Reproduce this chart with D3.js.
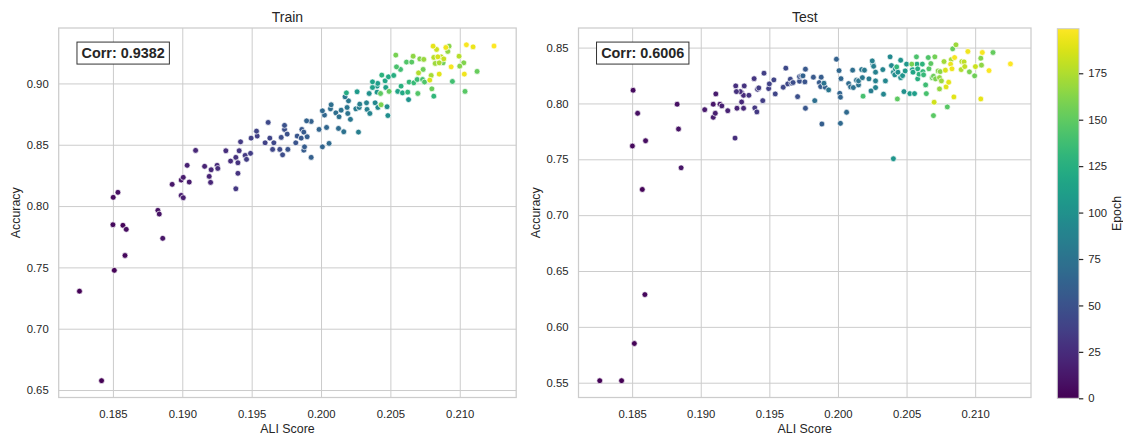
<!DOCTYPE html>
<html>
<head>
<meta charset="utf-8">
<script src="https://cdn.jsdelivr.net/npm/d3@7"></script>
<style>
  body { margin: 0; background: #fff; }
  svg { display: block; }
  text { font-family: "Liberation Sans", Arial, Helvetica, sans-serif; fill: #262626; }
</style>
</head>
<body>
<svg id="chart" width="1123" height="435"></svg>
<script>
// [ALI score, accuracy, epoch] for every logged epoch
const trainPoints = [
  [0.18259, 0.7306, 1], [0.18418, 0.6576, 0], [0.18510, 0.7476, 2], [0.18500, 0.7848, 5],
  [0.18572, 0.7843, 3], [0.18596, 0.7810, 7], [0.18587, 0.7597, 4], [0.18502, 0.8071, 6],
  [0.18536, 0.8112, 8], [0.18824, 0.7965, 9], [0.18834, 0.7935, 10], [0.18859, 0.7737, 11],
  [0.18927, 0.8177, 13], [0.18992, 0.8212, 12], [0.19007, 0.8234, 15], [0.19050, 0.8196, 14],
  [0.18992, 0.8087, 16], [0.19007, 0.8068, 17], [0.19035, 0.8332, 18], [0.19096, 0.8454, 22],
  [0.19161, 0.8324, 19], [0.19194, 0.8242, 20], [0.19204, 0.8193, 21], [0.19208, 0.8296, 23],
  [0.19251, 0.8332, 24], [0.19256, 0.8307, 25], [0.19314, 0.8451, 27], [0.19348, 0.8367, 26],
  [0.19386, 0.8397, 28], [0.19401, 0.8353, 29], [0.19410, 0.8451, 31], [0.19401, 0.8267, 30],
  [0.19386, 0.8141, 32], [0.19420, 0.8524, 34], [0.19453, 0.8413, 33], [0.19463, 0.8381, 35],
  [0.19492, 0.8430, 36], [0.19496, 0.8554, 38], [0.19535, 0.8611, 40], [0.19540, 0.8571, 37],
  [0.19597, 0.8516, 39], [0.19619, 0.8682, 44], [0.19631, 0.8554, 41], [0.19651, 0.8462, 42],
  [0.19660, 0.8516, 43], [0.19703, 0.8462, 45], [0.19713, 0.8560, 47], [0.19723, 0.8418, 46],
  [0.19737, 0.8658, 50], [0.19737, 0.8625, 48], [0.19756, 0.8587, 49], [0.19761, 0.8462, 51],
  [0.19818, 0.8516, 52], [0.19828, 0.8571, 53], [0.19857, 0.8554, 55], [0.19862, 0.8625, 54],
  [0.19876, 0.8603, 56], [0.19876, 0.8456, 57], [0.19881, 0.8483, 58], [0.19896, 0.8695, 62],
  [0.19900, 0.8565, 59], [0.19929, 0.8397, 60], [0.19929, 0.8690, 61], [0.19986, 0.8625, 63],
  [0.20010, 0.8483, 64], [0.20010, 0.8777, 67], [0.20025, 0.8742, 66], [0.20040, 0.8641, 65],
  [0.20058, 0.8511, 68], [0.20073, 0.8826, 72], [0.20068, 0.8793, 70], [0.20107, 0.8760, 71],
  [0.20126, 0.8633, 69], [0.20130, 0.8728, 73], [0.20145, 0.8782, 75], [0.20164, 0.8606, 74],
  [0.20173, 0.8891, 80], [0.20183, 0.8923, 122], [0.20188, 0.8804, 77], [0.20193, 0.8755, 76],
  [0.20198, 0.8858, 79], [0.20212, 0.8707, 78], [0.20251, 0.8793, 82], [0.20260, 0.8932, 108],
  [0.20270, 0.8603, 84], [0.20279, 0.8831, 85], [0.20328, 0.8842, 88], [0.20332, 0.8788, 86],
  [0.20347, 0.8918, 100], [0.20352, 0.8755, 90], [0.20371, 0.8967, 112], [0.20371, 0.9013, 115],
  [0.20404, 0.8929, 104], [0.20409, 0.9000, 110], [0.20438, 0.9068, 128], [0.20390, 0.8842, 92],
  [0.20404, 0.8978, 106], [0.20410, 0.8804, 94], [0.20429, 0.8918, 150], [0.20433, 0.8826, 160],
  [0.20462, 0.9021, 118], [0.20467, 0.8967, 114], [0.20476, 0.8810, 96], [0.20491, 0.8935, 152],
  [0.20486, 0.9054, 120], [0.20524, 0.9065, 124], [0.20539, 0.9231, 158], [0.20544, 0.9135, 142],
  [0.20553, 0.8935, 116], [0.20573, 0.9114, 138], [0.20577, 0.8978, 126], [0.20587, 0.8923, 119],
  [0.20616, 0.9174, 145], [0.20625, 0.8929, 130], [0.20635, 0.9011, 132], [0.20654, 0.9174, 148],
  [0.20664, 0.9222, 165], [0.20669, 0.9005, 134], [0.20693, 0.9032, 136], [0.20698, 0.8918, 146],
  [0.20703, 0.9086, 176], [0.20712, 0.9200, 162], [0.20732, 0.9032, 140], [0.20736, 0.9114, 155],
  [0.20741, 0.9196, 168], [0.20746, 0.9011, 144], [0.20784, 0.9027, 188], [0.20794, 0.9065, 172],
  [0.20799, 0.8956, 154], [0.20808, 0.9304, 192], [0.20813, 0.9212, 178], [0.20813, 0.8896, 131],
  [0.20823, 0.9163, 170], [0.20833, 0.9277, 184], [0.20842, 0.9217, 186], [0.20852, 0.9076, 190],
  [0.20852, 0.9168, 174], [0.20866, 0.9217, 180], [0.20880, 0.9168, 156], [0.20885, 0.9200, 182],
  [0.20900, 0.9293, 194], [0.20914, 0.9261, 166], [0.20923, 0.9304, 164], [0.20938, 0.9135, 196],
  [0.20947, 0.9016, 139], [0.20995, 0.9222, 177], [0.21000, 0.9141, 163], [0.21029, 0.9168, 161],
  [0.21033, 0.9076, 195], [0.21038, 0.8935, 147], [0.21048, 0.9315, 197], [0.21096, 0.9298, 193],
  [0.21125, 0.9098, 153], [0.21247, 0.9305, 199], [0.20482, 0.8738, 98], [0.20631, 0.8868, 102],
  [0.20275, 0.8804, 83]
];

const testPoints = [
  [0.18264, 0.5518, 1], [0.18423, 0.5518, 0], [0.18516, 0.5851, 2], [0.18593, 0.6289, 4],
  [0.18574, 0.7230, 3], [0.18507, 0.8118, 6], [0.18540, 0.7912, 8], [0.18502, 0.7619, 5],
  [0.18598, 0.7666, 7], [0.18828, 0.7993, 9], [0.18838, 0.7771, 10], [0.18857, 0.7424, 11],
  [0.19029, 0.7944, 14], [0.19091, 0.7876, 16], [0.19106, 0.7912, 17], [0.19091, 0.7993, 12],
  [0.19110, 0.8085, 15], [0.19140, 0.7993, 13], [0.19154, 0.7978, 18], [0.19197, 0.7935, 19],
  [0.19264, 0.7957, 20], [0.19298, 0.8097, 21], [0.19298, 0.8013, 23], [0.19312, 0.7957, 22],
  [0.19312, 0.8073, 24], [0.19288, 0.8106, 25], [0.19250, 0.7690, 26], [0.19255, 0.8157, 27],
  [0.19260, 0.8106, 28], [0.19317, 0.8157, 29], [0.19351, 0.8073, 30], [0.19389, 0.8222, 31],
  [0.19394, 0.7960, 32], [0.19409, 0.7924, 33], [0.19414, 0.8127, 34], [0.19423, 0.8139, 35],
  [0.19452, 0.8025, 36], [0.19461, 0.8271, 37], [0.19495, 0.8133, 38], [0.19500, 0.8175, 39],
  [0.19533, 0.8211, 40], [0.19543, 0.8085, 41], [0.19601, 0.8145, 42], [0.19620, 0.8316, 44],
  [0.19634, 0.8175, 43], [0.19653, 0.8217, 45], [0.19663, 0.8181, 46], [0.19673, 0.8187, 47],
  [0.19706, 0.8061, 48], [0.19720, 0.8240, 50], [0.19720, 0.8199, 49], [0.19735, 0.8247, 51],
  [0.19745, 0.8247, 62], [0.19759, 0.8193, 52], [0.19763, 0.8307, 54], [0.19763, 0.7957, 53],
  [0.19821, 0.8235, 55], [0.19831, 0.8025, 72], [0.19864, 0.8187, 56], [0.19874, 0.8151, 57],
  [0.19878, 0.8235, 58], [0.19883, 0.7816, 59], [0.19898, 0.8181, 76], [0.19907, 0.8145, 60],
  [0.19932, 0.8121, 78], [0.19989, 0.8396, 61], [0.20008, 0.8294, 66], [0.20013, 0.8091, 63],
  [0.20018, 0.8056, 64], [0.20022, 0.8222, 65], [0.20018, 0.7822, 67], [0.20063, 0.7921, 68],
  [0.20078, 0.8178, 69], [0.20092, 0.8148, 70], [0.20107, 0.8298, 71], [0.20112, 0.8142, 73],
  [0.20135, 0.8208, 74], [0.20150, 0.8166, 75], [0.20150, 0.8202, 77], [0.20173, 0.8303, 79],
  [0.20178, 0.8231, 80], [0.20183, 0.8065, 140], [0.20193, 0.8298, 81], [0.20226, 0.8220, 82],
  [0.20241, 0.8112, 83], [0.20250, 0.8381, 86], [0.20255, 0.8351, 84], [0.20260, 0.8333, 85],
  [0.20274, 0.8280, 87], [0.20274, 0.8202, 88], [0.20274, 0.8142, 89], [0.20327, 0.8303, 90],
  [0.20332, 0.8083, 91], [0.20346, 0.8202, 92], [0.20380, 0.8417, 94], [0.20390, 0.8339, 93],
  [0.20404, 0.8280, 95], [0.20414, 0.8256, 96], [0.20418, 0.8309, 97], [0.20428, 0.8327, 130],
  [0.20433, 0.8040, 150], [0.20437, 0.8280, 98], [0.20457, 0.8231, 99], [0.20457, 0.8387, 101],
  [0.20471, 0.8249, 103], [0.20481, 0.8106, 100], [0.20500, 0.8352, 105], [0.20490, 0.8291, 107],
  [0.20524, 0.8088, 109], [0.20558, 0.8088, 111], [0.20538, 0.8352, 158], [0.20543, 0.8303, 113],
  [0.20547, 0.8280, 117], [0.20572, 0.8417, 143], [0.20576, 0.8352, 121], [0.20581, 0.8310, 123],
  [0.20581, 0.8220, 125], [0.20591, 0.8262, 127], [0.20615, 0.8352, 129], [0.20619, 0.8285, 131],
  [0.20624, 0.8256, 133], [0.20639, 0.8166, 137], [0.20644, 0.8088, 141], [0.20658, 0.8411, 144],
  [0.20663, 0.8310, 146], [0.20677, 0.8357, 149], [0.20687, 0.8231, 151], [0.20696, 0.8244, 154],
  [0.20701, 0.8011, 185], [0.20696, 0.7891, 148], [0.20706, 0.8417, 157], [0.20711, 0.8220, 159],
  [0.20730, 0.8291, 162], [0.20745, 0.8285, 164], [0.20740, 0.8231, 166], [0.20740, 0.8130, 167],
  [0.20754, 0.8202, 169], [0.20773, 0.8375, 171], [0.20783, 0.8298, 187], [0.20788, 0.8148, 189],
  [0.20797, 0.7969, 147], [0.20807, 0.8190, 191], [0.20821, 0.8352, 193], [0.20826, 0.8393, 173],
  [0.20831, 0.8310, 194], [0.20836, 0.8489, 153], [0.20845, 0.8058, 190], [0.20850, 0.8411, 196],
  [0.20860, 0.8525, 170], [0.20898, 0.8303, 175], [0.20903, 0.8375, 177], [0.20947, 0.8465, 195],
  [0.20919, 0.8372, 179], [0.20924, 0.8330, 181], [0.20958, 0.8283, 160], [0.21002, 0.8330, 183],
  [0.20996, 0.8247, 155], [0.21041, 0.8405, 163], [0.21046, 0.8343, 165], [0.21052, 0.8456, 197],
  [0.21041, 0.8040, 192], [0.21101, 0.8294, 198], [0.21130, 0.8456, 152], [0.21257, 0.8354, 199],
  [0.20404, 0.7505, 104]
];

const panelTitles = ["Train", "Test"];
const corrLabels = ["Corr: 0.9382", "Corr: 0.6006"];
const xTicks = [0.185, 0.190, 0.195, 0.200, 0.205, 0.210];
const trainYTicks = [0.65, 0.70, 0.75, 0.80, 0.85, 0.90];
const testYTicks = [0.55, 0.60, 0.65, 0.70, 0.75, 0.80, 0.85];
const epochTicks = [0, 25, 50, 75, 100, 125, 150, 175];
const epochRange = [0, 199];

const svg = d3.select("#chart");
const GRID = "#cccccc";
const INK = "#262626";

svg.append("rect").attr("width", 1123).attr("height", 435).attr("fill", "#fff");

const color = d3.scaleSequential(d3.interpolateViridis).domain(epochRange);

// domain padded 5% on each side of the data, like matplotlib's autoscale
function padded(values) {
  const [lo, hi] = d3.extent(values);
  const m = (hi - lo) * 0.05;
  return [lo - m, hi + m];
}

const allAli = trainPoints.map(d => d[0]).concat(testPoints.map(d => d[0]));
const xDomain = padded(allAli);

const panels = [
  { title: panelTitles[0], corr: corrLabels[0], data: trainPoints, yTicks: trainYTicks,
    left: 58.7, right: 516.2, top: 28, bottom: 397.5, ylabelX: 16 },
  { title: panelTitles[1], corr: corrLabels[1], data: testPoints, yTicks: testYTicks,
    left: 578.5, right: 1031, top: 28, bottom: 397.5, ylabelX: 536 }
];

panels.forEach(p => {
  const x = d3.scaleLinear().domain(xDomain).range([p.left, p.right]);
  const y = d3.scaleLinear().domain(padded(p.data.map(d => d[1]))).range([p.bottom, p.top]);
  const g = svg.append("g");

  // grid lines
  const xAxis = d3.axisBottom(x).tickValues(xTicks).tickFormat(d3.format(".3f"))
    .tickSize(-(p.bottom - p.top)).tickPadding(12);
  const gx = g.append("g").attr("transform", `translate(0,${p.bottom})`).call(xAxis);
  const yAxis = d3.axisLeft(y).tickValues(p.yTicks).tickFormat(d3.format(".2f"))
    .tickSize(-(p.right - p.left)).tickPadding(10);
  const gy = g.append("g").attr("transform", `translate(${p.left},0)`).call(yAxis);
  [gx, gy].forEach(a => {
    a.select(".domain").remove();
    a.selectAll(".tick line").attr("stroke", GRID).attr("stroke-width", 1);
    a.selectAll(".tick text").attr("fill", INK).style("font-size", "11.3px");
  });
  gx.selectAll(".tick text").attr("dy", "0.71em").attr("y", 12.5);

  // frame
  g.append("rect")
    .attr("x", p.left).attr("y", p.top)
    .attr("width", p.right - p.left).attr("height", p.bottom - p.top)
    .attr("fill", "none").attr("stroke", GRID).attr("stroke-width", 1.25);

  // points, later epochs on top
  const pts = p.data.slice().sort((a, b) => a[2] - b[2]);
  g.append("g").selectAll("circle").data(pts).join("circle")
    .attr("cx", d => x(d[0])).attr("cy", d => y(d[1])).attr("r", 2.9)
    .attr("fill", d => color(d[2]))
    .attr("stroke", "#fff").attr("stroke-width", 0.7);

  // title and axis labels
  g.append("text").attr("x", (p.left + p.right) / 2).attr("y", 22.3)
    .attr("text-anchor", "middle").style("font-size", "14px").text(p.title);
  g.append("text").attr("x", (p.left + p.right) / 2).attr("y", 432.5)
    .attr("text-anchor", "middle").style("font-size", "12.4px").text("ALI Score");
  g.append("text")
    .attr("transform", `translate(${p.ylabelX},${(p.top + p.bottom) / 2}) rotate(-90)`)
    .attr("text-anchor", "middle").attr("dy", "0.35em")
    .style("font-size", "12.4px").text("Accuracy");

  // correlation badge
  const tx = p.left + 0.05 * (p.right - p.left);
  const ty = p.top + 0.05 * (p.bottom - p.top);
  const badge = g.append("rect");
  const label = g.append("text").attr("x", tx).attr("y", ty + 11.8)
    .style("font-size", "14.4px").style("font-weight", "bold").text(p.corr);
  const bb = label.node().getBBox();
  badge.attr("x", bb.x - 4.6).attr("y", ty - 4.4)
    .attr("width", bb.width + 9.2).attr("height", 22)
    .attr("fill", "#fff").attr("stroke", "#333").attr("stroke-width", 1);
});

// colour bar
const cb = { left: 1057.3, right: 1079, top: 28.7, bottom: 398.3 };
const defs = svg.append("defs");
const grad = defs.append("linearGradient").attr("id", "viridis")
  .attr("x1", "0").attr("y1", "1").attr("x2", "0").attr("y2", "0");
d3.range(0, 1.0001, 0.02).forEach(t => {
  grad.append("stop").attr("offset", t).attr("stop-color", d3.interpolateViridis(t));
});
svg.append("rect")
  .attr("x", cb.left).attr("y", cb.top)
  .attr("width", cb.right - cb.left).attr("height", cb.bottom - cb.top)
  .attr("fill", "url(#viridis)").attr("stroke", GRID).attr("stroke-width", 1);

const cScale = d3.scaleLinear().domain(epochRange).range([cb.bottom, cb.top]);
const cAxis = d3.axisRight(cScale).tickValues(epochTicks).tickSize(4.3).tickPadding(5);
const gc = svg.append("g").attr("transform", `translate(${cb.right},0)`).call(cAxis);
gc.select(".domain").remove();
gc.selectAll(".tick line").attr("stroke", INK).attr("stroke-width", 1.2);
gc.selectAll(".tick text").attr("fill", INK).style("font-size", "11.3px");

svg.append("text")
  .attr("transform", `translate(1117,${(cb.top + cb.bottom) / 2}) rotate(-90)`)
  .attr("text-anchor", "middle").attr("dy", "0.35em")
  .style("font-size", "12.4px").text("Epoch");
</script>
</body>
</html>
